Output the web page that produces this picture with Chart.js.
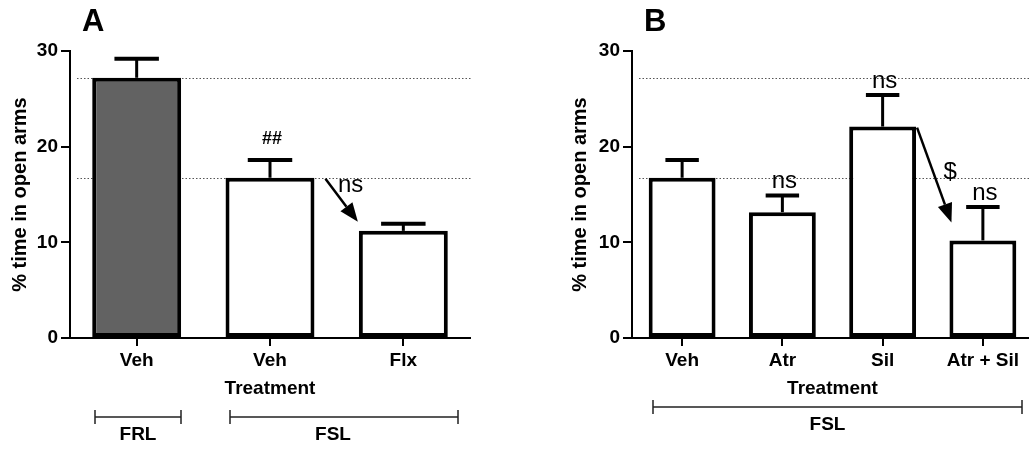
<!DOCTYPE html>
<html>
<head>
<meta charset="utf-8">
<script src="https://cdn.jsdelivr.net/npm/chart.js@4/dist/chart.umd.min.js"></script>
<style>
  html, body { margin: 0; padding: 0; background: #fff; overflow: hidden; width: 1029px; height: 454px; }
  .panel { position: absolute; top: 0; height: 454px; }
  #panelA { left: 0; width: 500px; }
  #panelB { left: 560px; width: 473px; }
</style>
</head>
<body>
<div class="panel" id="panelA"><canvas id="chartA"></canvas></div>
<div class="panel" id="panelB"><canvas id="chartB"></canvas></div>
<script>
// panel A
const categoriesA = ["Veh", "Veh", "Flx"];
const meansA = [27.2, 16.75, 11.2];
const semA = [2.0, 1.85, 0.75];
const colorsA = ["#626262", "#ffffff", "#ffffff"];
const marksA = ["", "##", ""];

// panel B
const categoriesB = ["Veh", "Atr", "Sil", "Atr + Sil"];
const meansB = [16.75, 13.15, 22.1, 10.2];
const semB = [1.85, 1.75, 3.3, 3.5];
const colorsB = ["#ffffff", "#ffffff", "#ffffff", "#ffffff"];
const marksB = ["", "ns", "ns", "ns"];

// dotted reference lines (FRL Veh and FSL Veh means)
const refLines = [27.2, 16.75];
const yTicks = [0, 10, 20, 30];

const FONT = "'Liberation Sans', Arial, Helvetica, sans-serif";
Chart.defaults.font.family = FONT;
Chart.defaults.color = "#000";

function drawArrow(ctx, x1, y1, x2, y2) {
  const ang = Math.atan2(y2 - y1, x2 - x1);
  const len = 19, half = 7.5;
  const bx = x2 - Math.cos(ang) * len, by = y2 - Math.sin(ang) * len;
  ctx.lineWidth = 2.5;
  ctx.beginPath();
  ctx.moveTo(x1, y1);
  ctx.lineTo(bx, by);
  ctx.stroke();
  ctx.beginPath();
  ctx.moveTo(x2, y2);
  ctx.lineTo(bx - Math.sin(ang) * half, by + Math.cos(ang) * half);
  ctx.lineTo(bx + Math.sin(ang) * half, by - Math.cos(ang) * half);
  ctx.closePath();
  ctx.fill();
}

const decor = {
  id: "decor",
  beforeDatasetsDraw(chart, args, opts) {
    const { ctx, chartArea: a, scales: { y } } = chart;
    ctx.save();
    ctx.strokeStyle = "#555";
    ctx.lineWidth = 1;
    ctx.setLineDash([1.5, 2]);
    opts.refLines.forEach(v => {
      const py = Math.round(y.getPixelForValue(v)) + 0.5;
      ctx.beginPath();
      ctx.moveTo(a.left + 7, py);
      ctx.lineTo(a.right + 2, py);
      ctx.stroke();
    });
    ctx.restore();
  },
  afterDatasetsDraw(chart, args, opts) {
    const { ctx, chartArea: a, scales: { x, y } } = chart;
    const vals = chart.data.datasets[0].data;
    const bars = chart.getDatasetMeta(0).data;
    ctx.save();
    ctx.strokeStyle = "#000";
    ctx.fillStyle = "#000";
    ctx.setLineDash([]);

    // error bars + marks
    bars.forEach((bar, i) => {
      const top = y.getPixelForValue(vals[i]);
      const errTop = y.getPixelForValue(vals[i] + opts.sem[i]);
      ctx.lineWidth = 3;
      ctx.beginPath();
      ctx.moveTo(bar.x, top);
      ctx.lineTo(bar.x, errTop);
      ctx.stroke();
      ctx.lineWidth = 4;
      ctx.beginPath();
      ctx.moveTo(bar.x - bar.width / 4, errTop);
      ctx.lineTo(bar.x + bar.width / 4, errTop);
      ctx.stroke();
      if (opts.marks[i]) {
        ctx.font = opts.markFont;
        ctx.textAlign = "center";
        ctx.textBaseline = "alphabetic";
        ctx.fillText(opts.marks[i], bar.x + 2, errTop - opts.markGap);
      }
    });

    // arrow between two bars
    const ar = opts.arrow;
    const b1 = bars[ar.from], b2 = bars[ar.to];
    const x1 = b1.x + b1.width / 2 + ar.start[0], y1 = b1.y + ar.start[1];
    const x2 = b2.x - b2.width / 2 + ar.end[0], y2 = b2.y + ar.end[1];
    drawArrow(ctx, x1, y1, x2, y2);
    ctx.font = ar.font;
    ctx.textAlign = "center";
    ctx.textBaseline = "middle";
    ctx.fillText(ar.label, (x1 + x2) / 2 + ar.labelAt[0], (y1 + y2) / 2 + ar.labelAt[1]);

    // panel letter
    ctx.font = "bold 31px " + FONT;
    ctx.textAlign = "left";
    ctx.textBaseline = "middle";
    ctx.fillText(opts.letter, a.left + 12, 22);

    // group brackets
    ctx.strokeStyle = "#222";
    ctx.lineWidth = 1.5;
    const by = a.bottom + opts.bracketY;
    opts.brackets.forEach(g => {
      const l = Math.round(x.getPixelForValue(g.a)), r = Math.round(x.getPixelForValue(g.b));
      ctx.beginPath();
      ctx.moveTo(l, by); ctx.lineTo(r, by);
      ctx.moveTo(l, by - 7); ctx.lineTo(l, by + 7);
      ctx.moveTo(r, by - 7); ctx.lineTo(r, by + 7);
      ctx.stroke();
      ctx.font = "bold 19px " + FONT;
      ctx.textAlign = "center";
      ctx.textBaseline = "middle";
      ctx.fillText(g.label, (l + r) / 2 + g.dx, by + 18);
    });
    ctx.restore();
  }
};

function makePanel(id, labels, values, colors, axisWidth, padRight, decorOpts) {
  const tickFont = { family: FONT, size: 19, weight: "bold" };
  return new Chart(document.getElementById(id), {
    type: "bar",
    data: {
      labels: labels,
      datasets: [{
        data: values,
        backgroundColor: colors,
        borderColor: "#000",
        borderWidth: 4,
        borderSkipped: false,
        barPercentage: 0.667,
        categoryPercentage: 1.0
      }]
    },
    options: {
      responsive: true,
      maintainAspectRatio: false,
      animation: false,
      layout: { padding: { top: 51, bottom: 50, left: 0, right: padRight } },
      plugins: {
        legend: { display: false },
        tooltip: { enabled: false },
        decor: decorOpts
      },
      scales: {
        x: {
          offset: true,
          grid: { drawOnChartArea: false, offset: false, tickLength: 8, lineWidth: 2, color: "#000" },
          border: { color: "#000", width: 2 },
          ticks: { color: "#000", font: tickFont, padding: 3 },
          title: {
            display: true, text: "Treatment", color: "#000",
            font: { family: FONT, size: 19, weight: "bold" },
            padding: { top: 0, bottom: 4 }
          },
          afterFit(s) { s.height = 66; }
        },
        y: {
          min: 0,
          max: 30,
          afterBuildTicks(s) { s.ticks = yTicks.map(v => ({ value: v })); },
          ticks: { color: "#000", font: tickFont, padding: 3 },
          grid: { drawOnChartArea: false, tickLength: 9, lineWidth: 2, color: "#000" },
          border: { color: "#000", width: 2 },
          title: {
            display: true, text: "% time in open arms", color: "#000",
            font: { family: FONT, size: 20, weight: "bold" },
            padding: { top: 8, bottom: 0 }
          },
          afterFit(s) { s.width = axisWidth; }
        }
      }
    },
    plugins: [decor]
  });
}

makePanel("chartA", categoriesA, meansA, colorsA, 70, 30, {
  letter: "A",
  refLines: refLines,
  sem: semA,
  marks: marksA,
  markFont: "bold 18px " + FONT,
  markGap: 16,
  arrow: { from: 1, to: 2, label: "ns", font: "24px " + FONT, start: [11, 1], end: [-1, -9], labelAt: [9, -15] },
  bracketY: 79,
  brackets: [
    { a: -0.31, b: 0.33, label: "FRL", dx: 0 },
    { a: 0.70, b: 2.41, label: "FSL", dx: -11 }
  ]
});

makePanel("chartB", categoriesB, meansB, colorsB, 72, 0, {
  letter: "B",
  refLines: refLines,
  sem: semB,
  marks: marksB,
  markFont: "24px " + FONT,
  markGap: 7,
  arrow: { from: 2, to: 3, label: "$", font: "24px " + FONT, start: [1, 1], end: [2, -18], labelAt: [16, -3] },
  bracketY: 69,
  brackets: [
    { a: -0.29, b: 3.39, label: "FSL", dx: -10 }
  ]
});
</script>
</body>
</html>
